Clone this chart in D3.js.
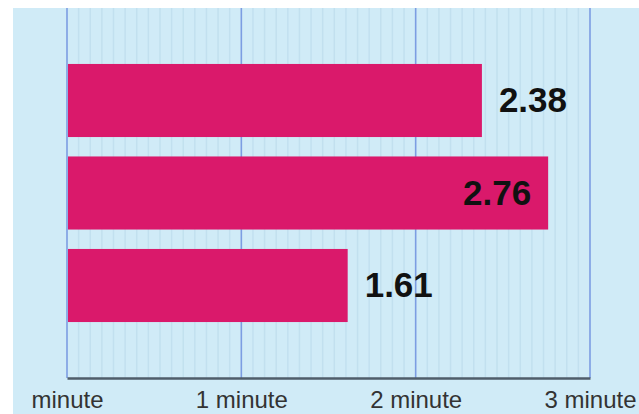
<!DOCTYPE html>
<html>
<head>
<meta charset="utf-8">
<script src="https://cdn.jsdelivr.net/npm/d3@7"></script>
<style>
  html, body { margin: 0; padding: 0; background: #fff; }
  svg { display: block; }
</style>
</head>
<body>
<div id="chart"></div>
<script>
// values (minutes)
const categories = ["A", "B", "C"];
const values = [2.38, 2.76, 1.61];
const tickValues = [0, 1, 2, 3];
const tickLabels = ["minute", "1 minute", "2 minute", "3 minute"];

const width = 639, height = 414;
const plotTop = 8, axisY = 378;

const svg = d3.select("#chart").append("svg")
  .attr("width", width).attr("height", height);

// light blue panel
svg.append("rect")
  .attr("x", 13).attr("y", plotTop)
  .attr("width", width - 13).attr("height", height - plotTop)
  .attr("fill", "#d0ebf7");

const x = d3.scaleLinear().domain([0, 3]).range([67, 590]);
const y = d3.scaleBand().domain(categories)
  .range([plotTop, axisY])
  .paddingInner(0.21)
  .paddingOuter(0.605);

// faint minor grid
const minor = d3.range(0, 3.0001, 1 / 15).filter(v => Math.abs(v - Math.round(v)) > 1e-6);
svg.append("g").selectAll("line")
  .data(minor).enter().append("line")
  .attr("x1", d => x(d)).attr("x2", d => x(d))
  .attr("y1", plotTop).attr("y2", axisY)
  .attr("stroke", "#c2e0ef").attr("stroke-width", 1.5);

// major grid
svg.append("g").selectAll("line")
  .data(tickValues).enter().append("line")
  .attr("x1", d => x(d)).attr("x2", d => x(d))
  .attr("y1", plotTop).attr("y2", axisY)
  .attr("stroke", "#7c9de2").attr("stroke-width", 1.6);

// bars
svg.append("g").selectAll("rect")
  .data(values).enter().append("rect")
  .attr("x", x(0) + 1)
  .attr("y", (d, i) => y(categories[i]))
  .attr("width", d => x(d) - x(0) - 1)
  .attr("height", y.bandwidth())
  .attr("fill", "#da196b");

// value labels
svg.append("g").selectAll("text")
  .data(values).enter().append("text")
  .attr("x", d => d > 2.6 ? x(d) - 17 : x(d) + 17)
  .attr("y", (d, i) => y(categories[i]) + y.bandwidth() / 2)
  .attr("dy", "0.34em")
  .attr("text-anchor", d => d > 2.6 ? "end" : "start")
  .attr("font-family", "Liberation Sans, Arial, sans-serif")
  .attr("font-weight", "bold")
  .attr("font-size", 35)
  .attr("fill", "#111")
  .text(d => d.toFixed(2));

// x axis
const xAxis = d3.axisBottom(x)
  .tickValues(tickValues)
  .tickSize(0)
  .tickPadding(13)
  .tickFormat((d, i) => tickLabels[i]);

const gx = svg.append("g")
  .attr("transform", `translate(0,${axisY})`)
  .call(xAxis);
gx.select(".domain")
  .attr("stroke", "#4f5d6a").attr("stroke-width", 2.5);
gx.selectAll("text")
  .attr("font-family", "Liberation Sans, Arial, sans-serif")
  .attr("font-size", 24)
  .attr("fill", "#333");
</script>
</body>
</html>
